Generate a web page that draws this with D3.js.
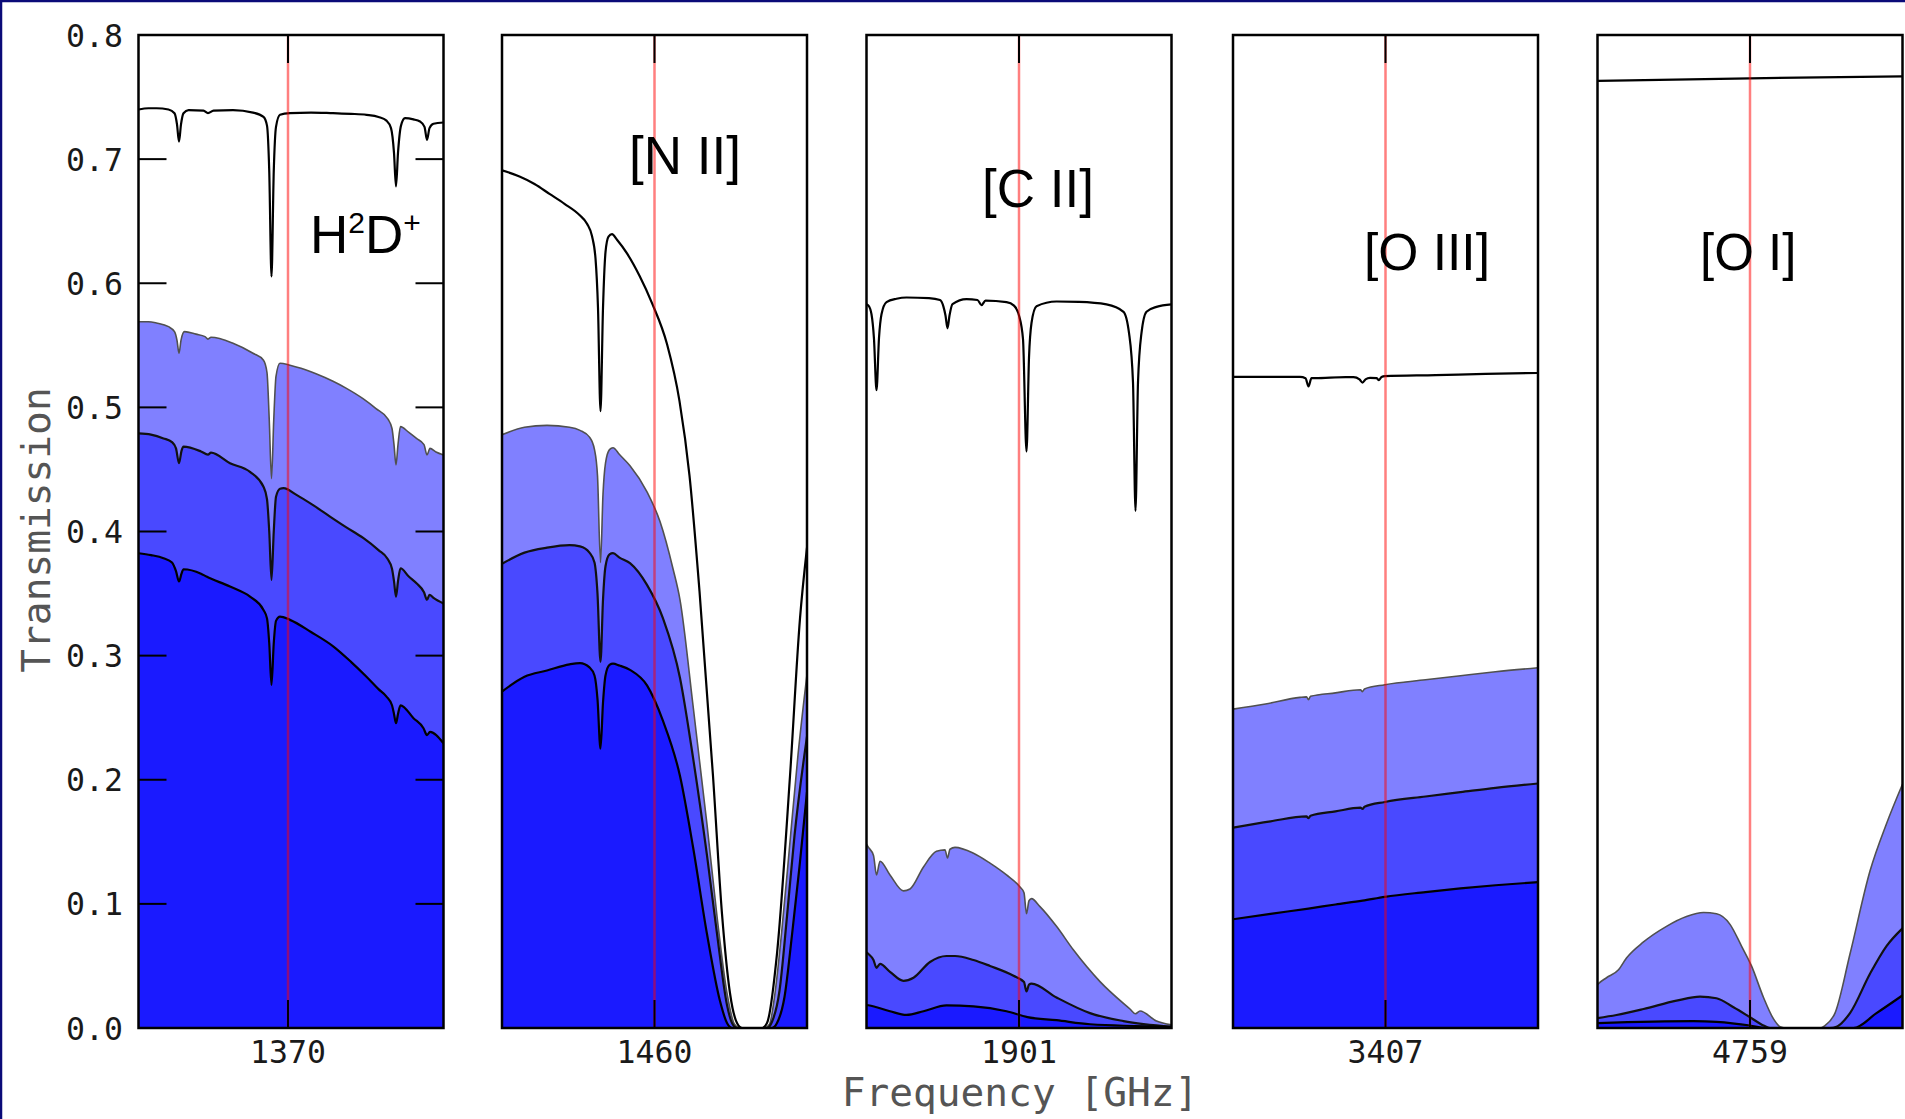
<!DOCTYPE html>
<html><head><meta charset="utf-8">
<script src="https://cdn.jsdelivr.net/npm/d3@7"></script>
<style>html,body{margin:0;padding:0;background:#fff;overflow:hidden}</style>
</head><body>
<svg id="chart" width="1905" height="1119"></svg>
<script>
// ---------------- DATA ----------------
const lineFreqs = [1370, 1460, 1901, 3407, 4759];          // tick label of each window (GHz)
const lineNames = ["H2D+", "[N II]", "[C II]", "[O III]", "[O I]"];
const lineTickOffsets = [-0.6, 0, 0, 0, 0];                 // line position inside window (GHz offset)
const windowDomain = [-30.5, 30.5];                          // GHz offset from window centre
const yTickValues = [0.0, 0.1, 0.2, 0.3, 0.4, 0.5, 0.6, 0.7, 0.8];
const yTickLabels = ["0.0", "0.1", "0.2", "0.3", "0.4", "0.5", "0.6", "0.7", "0.8"];

// each series: [GHz offset, transmission]
// panel 1 : H2D+ 1370 GHz
const p1Top = [[-30.5,0.740],[-28.5,0.741],[-26.9,0.741],[-24.5,0.740],[-23.3,0.737],[-22.8,0.728],[-22.4,0.714],[-22.0,0.728],[-21.5,0.737],[-20.5,0.7395],[-17.5,0.739],[-16.6,0.737],[-15.5,0.739],[-11.6,0.7395],[-7.6,0.7375],[-5.5,0.734],[-4.8,0.727],[-4.35,0.69],[-3.9,0.6055],[-3.45,0.69],[-3.0,0.726],[-2.2,0.7357],[-0.2,0.737],[4,0.7375],[8.4,0.737],[12,0.7365],[15.1,0.7357],[17.5,0.734],[19.1,0.731],[20.0,0.725],[20.6,0.705],[21.0,0.678],[21.4,0.705],[22.0,0.727],[22.8,0.733],[24.5,0.732],[25.8,0.7303],[26.7,0.726],[27.2,0.7155],[27.7,0.725],[28.5,0.7285],[30.5,0.7295]];
const p1Light = [[-30.5,0.569],[-28.5,0.569],[-26.9,0.568],[-24.5,0.565],[-23.3,0.561],[-22.8,0.554],[-22.4,0.5436],[-22.0,0.554],[-21.3,0.561],[-19,0.559],[-17.2,0.557],[-16.6,0.555],[-16,0.5565],[-11.6,0.5517],[-7.6,0.5436],[-5.5,0.538],[-4.8,0.528],[-4.35,0.49],[-3.9,0.4426],[-3.45,0.49],[-3.0,0.525],[-2.2,0.5356],[-0.2,0.534],[2,0.5315],[5,0.527],[8.4,0.521],[11,0.5155],[14.4,0.507],[17,0.499],[19.4,0.4905],[20.2,0.483],[20.6,0.47],[21.0,0.4537],[21.4,0.47],[21.9,0.4845],[23.5,0.48],[25.1,0.475],[26.6,0.47],[27.2,0.4617],[27.8,0.467],[29,0.464],[30.5,0.4617]];
const p1Mid = [[-30.5,0.479],[-28,0.478],[-25.5,0.475],[-23.8,0.472],[-23.0,0.467],[-22.4,0.455],[-21.9,0.465],[-21.5,0.4684],[-18,0.4645],[-16.6,0.462],[-16,0.4635],[-12.2,0.455],[-8.2,0.448],[-5.5,0.436],[-4.8,0.426],[-4.35,0.4],[-3.9,0.361],[-3.45,0.4],[-3.0,0.428],[-2.2,0.4345],[-1.5,0.435],[1.1,0.4295],[4.5,0.421],[7.8,0.412],[11,0.4035],[14.5,0.3946],[17.5,0.385],[19.3,0.378],[20.2,0.37],[20.6,0.36],[21.0,0.3475],[21.4,0.36],[21.9,0.3704],[23.5,0.364],[25.1,0.3583],[26.6,0.351],[27.2,0.345],[27.7,0.349],[28.5,0.3465],[30.5,0.342]];
const p1Dark = [[-30.5,0.3825],[-28,0.381],[-25.5,0.3785],[-23.8,0.375],[-23.0,0.368],[-22.4,0.3597],[-21.9,0.366],[-21.5,0.3696],[-18,0.366],[-16.9,0.3637],[-12.2,0.3556],[-8.2,0.3475],[-5.5,0.3368],[-4.8,0.33],[-4.35,0.31],[-3.9,0.2764],[-3.45,0.31],[-3.0,0.328],[-2.2,0.3315],[-0.2,0.3288],[4,0.319],[8.5,0.3073],[12,0.295],[15.1,0.283],[17.5,0.273],[19.1,0.267],[20.2,0.26],[20.6,0.253],[21.0,0.2455],[21.4,0.253],[21.9,0.26],[24.5,0.2496],[26.5,0.2415],[27.2,0.236],[27.8,0.2385],[30.5,0.2294]];

// panel 2 : [N II] 1460 GHz
const p2Top = [[-30.5,0.691],[-27,0.686],[-24,0.680],[-21,0.672],[-18,0.664],[-15,0.655],[-13.5,0.648],[-12.5,0.638],[-11.8,0.62],[-11.3,0.58],[-10.8,0.497],[-10.3,0.58],[-9.8,0.625],[-9.2,0.6375],[-8.5,0.6395],[-7.5,0.635],[-5.5,0.624],[-3,0.606],[-0.5,0.584],[2.5,0.551],[5,0.505],[7,0.445],[9,0.352],[11.7,0.203],[13.5,0.092],[15.1,0.028],[16.5,0.004],[17.5,0],[21.5,0],[22.5,0.004],[24.5,0.06],[27.1,0.203],[29.1,0.33],[30.5,0.387]];
const p2Light = [[-30.5,0.478],[-26,0.484],[-21.5,0.4855],[-17,0.484],[-14.9,0.4815],[-13,0.476],[-12,0.466],[-11.4,0.445],[-10.8,0.375],[-10.3,0.43],[-9.8,0.455],[-9.0,0.466],[-8.3,0.4675],[-7,0.462],[-4.9,0.453],[-1.5,0.432],[1.1,0.408],[3.7,0.37],[5.1,0.345],[7.7,0.26],[10.5,0.164],[12.5,0.09],[14.5,0.028],[16,0.003],[17,0],[22,0],[23,0.003],[24,0.025],[25.5,0.08],[27.1,0.15],[28.7,0.22],[30.5,0.285]];
const p2Mid = [[-30.5,0.374],[-26,0.383],[-21.5,0.387],[-17,0.389],[-14.9,0.388],[-13,0.383],[-12,0.375],[-11.4,0.35],[-10.8,0.295],[-10.3,0.345],[-9.8,0.372],[-9.0,0.3815],[-8.3,0.3825],[-7,0.379],[-4.9,0.3745],[-1.5,0.357],[1.7,0.33],[5.1,0.282],[7.7,0.218],[10.5,0.139],[12.5,0.076],[14.5,0.0185],[15.5,0.004],[16.5,0],[22.5,0],[23.5,0.005],[25,0.03],[26.5,0.09],[28,0.155],[30.5,0.235]];
const p2Dark = [[-30.5,0.271],[-26,0.283],[-21.5,0.288],[-17,0.293],[-14.9,0.294],[-13,0.2905],[-12,0.284],[-11.4,0.265],[-10.8,0.225],[-10.3,0.262],[-9.8,0.284],[-9.0,0.2925],[-8.3,0.2935],[-7,0.292],[-4.9,0.2885],[-1.5,0.276],[1.7,0.2474],[5.1,0.203],[7.7,0.146],[10.5,0.0757],[13.1,0.0217],[14.5,0.004],[15.5,0],[23.5,0],[24.5,0.004],[26,0.025],[27.5,0.075],[29,0.13],[30.5,0.19]];

// panel 3 : [C II] 1901 GHz
const p3Top = [[-30.5,0.583],[-30.1,0.582],[-29.5,0.575],[-29.0,0.555],[-28.5,0.5138],[-28.0,0.556],[-27.5,0.575],[-26.5,0.5848],[-24.5,0.5875],[-22.5,0.5885],[-18,0.588],[-15.8,0.5865],[-15.1,0.581],[-14.7,0.574],[-14.3,0.5637],[-13.9,0.574],[-13.3,0.5832],[-10.5,0.5872],[-8.3,0.5865],[-7.5,0.5823],[-6.7,0.586],[-2.5,0.5848],[-1.0,0.582],[0,0.574],[0.8,0.555],[1.5,0.4645],[2.0,0.54],[2.5,0.568],[3.5,0.5815],[7.5,0.5853],[12,0.585],[17.5,0.583],[20.9,0.577],[22.0,0.56],[22.8,0.52],[23.3,0.4167],[23.8,0.52],[24.5,0.56],[25.5,0.577],[27.5,0.581],[30.5,0.583]];
const p3Light = [[-30.5,0.148],[-30.1,0.1455],[-29.1,0.139],[-28.5,0.1233],[-27.8,0.1344],[-25.8,0.1233],[-23.1,0.1105],[-21.8,0.112],[-19.1,0.1297],[-16.5,0.1423],[-14.8,0.1435],[-14.3,0.137],[-13.8,0.144],[-12.8,0.1455],[-9.1,0.1408],[-5.8,0.1328],[-2.5,0.1233],[0.2,0.1136],[1.0,0.109],[1.5,0.092],[2.0,0.1025],[2.5,0.1042],[4.2,0.0978],[7.5,0.0819],[10.9,0.0628],[16.2,0.0374],[22.2,0.0153],[23.3,0.0115],[24.2,0.0137],[27.5,0.0056],[30.5,0.0025]];
const p3Mid = [[-30.5,0.061],[-30.1,0.0596],[-29.1,0.0548],[-28.5,0.0485],[-27.8,0.0517],[-25.8,0.0453],[-23.1,0.038],[-21.1,0.0405],[-17.8,0.0532],[-14.5,0.058],[-12.8,0.058],[-9.1,0.0548],[-5.8,0.05],[-1.1,0.0421],[1.0,0.037],[1.5,0.0294],[2.0,0.035],[2.5,0.0358],[7.5,0.0246],[14.2,0.012],[20.9,0.0056],[30.5,0.001]];
const p3Dark = [[-30.5,0.0185],[-30.1,0.0183],[-25.8,0.0135],[-22.5,0.0105],[-19.1,0.0135],[-14.5,0.0183],[-9.1,0.0175],[-2.5,0.0135],[1.7,0.0088],[7.5,0.0063],[14.2,0.003],[30.5,0.001]];

// panel 4 : [O III] 3407 GHz
const p4Top = [[-30.5,0.5246],[-20,0.5246],[-17.1,0.5246],[-16.0,0.5235],[-15.4,0.5169],[-14.8,0.5235],[-14.1,0.5235],[-8,0.5243],[-6.4,0.5243],[-5.2,0.5225],[-4.6,0.52],[-4.0,0.5225],[-3.1,0.5237],[-1.8,0.5235],[-1.3,0.522],[-0.8,0.5245],[-0.1,0.5252],[10,0.526],[20,0.527],[30.5,0.5277]];
const p4Light = [[-30.5,0.2569],[-24,0.261],[-17.1,0.2664],[-15.8,0.2668],[-15.4,0.2645],[-15.0,0.2672],[-10,0.2700],[-5.0,0.2725],[-4.6,0.271],[-4.2,0.2732],[-0.1,0.2766],[8,0.2805],[15,0.2838],[22,0.287],[30.5,0.2902]];
const p4Mid = [[-30.5,0.1614],[-23,0.1665],[-15.8,0.1705],[-15.4,0.169],[-15.0,0.171],[-10,0.1745],[-5,0.1775],[-4.6,0.1765],[-4.2,0.1782],[-0.1,0.1821],[8,0.1865],[15,0.190],[22,0.1935],[30.5,0.197]];
const p4Dark = [[-30.5,0.0876],[-23,0.092],[-15.4,0.0962],[-10,0.0995],[-4.6,0.1026],[-0.1,0.1057],[8,0.1095],[15,0.1125],[22,0.115],[30.5,0.1175]];

// panel 5 : [O I] 4759 GHz
const p5Top = [[-30.5,0.763],[0,0.7651],[30.5,0.7667]];
const p5Light = [[-30.5,0.035],[-30.3,0.0358],[-28.7,0.0405],[-26.3,0.0469],[-24.7,0.0564],[-21.3,0.0693],[-16.7,0.0819],[-12.7,0.0898],[-9.3,0.093],[-6.7,0.092],[-4,0.0835],[-1.7,0.066],[0.3,0.05],[2.7,0.0246],[4.7,0.0073],[6,0.001],[7,0],[14,0],[15,0.002],[17,0.012],[20,0.0596],[24,0.1265],[27.3,0.1646],[30.5,0.1964]];
const p5Mid = [[-30.5,0.008],[-26.7,0.0105],[-21.3,0.0153],[-14.7,0.022],[-10,0.0253],[-6.7,0.024],[-3.3,0.0167],[0,0.0087],[2.7,0.002],[4,0],[16,0],[17.3,0.001],[20,0.012],[24,0.0437],[27.3,0.066],[30.5,0.0803]];
const p5Dark = [[-30.5,0.004],[-11.3,0.0056],[-6.7,0.005],[0,0.002],[3,0],[20.7,0],[25.3,0.012],[30.5,0.0263]];

const panelTop = [p1Top, p2Top, p3Top, p4Top, p5Top];
const panelLight = [p1Light, p2Light, p3Light, p4Light, p5Light];
const panelMid = [p1Mid, p2Mid, p3Mid, p4Mid, p5Mid];
const panelDark = [p1Dark, p2Dark, p3Dark, p4Dark, p5Dark];

// ---------------- LAYOUT ----------------
const plotTop = 35, plotBottom = 1028;
const panelLefts = [138.5, 502, 866.5, 1233, 1597.5];
const panelWidth = 305;
const tickLen = 28;
const monoFont = "'DejaVu Sans Mono', monospace";
const sansFont = "'Liberation Sans', Arial, sans-serif";

const svg = d3.select("#chart");
svg.append("rect").attr("width", 1905).attr("height", 1119).attr("fill", "#fff");

const y = d3.scaleLinear().domain([0, 0.8]).range([plotBottom, plotTop]);

lineFreqs.forEach((freq, i) => {
  const left = panelLefts[i];
  const x = d3.scaleLinear().domain(windowDomain).range([left, left + panelWidth]);
  const g = svg.append("g");
  const clipId = "clip" + i;
  svg.append("clipPath").attr("id", clipId).append("rect")
    .attr("x", left).attr("y", plotTop).attr("width", panelWidth).attr("height", plotBottom - plotTop);
  const inner = g.append("g").attr("clip-path", `url(#${clipId})`);

  const area = d3.area().x(d => x(d[0])).y0(y(0)).y1(d => y(d[1])).curve(d3.curveMonotoneX);
  const line = d3.line().x(d => x(d[0])).y(d => y(d[1])).curve(d3.curveMonotoneX);

  const layers = [
    {data: panelLight[i], fill: "#8080ff", stroke: "#505050", sw: 1.6},
    {data: panelMid[i],   fill: "#4949ff", stroke: "#111", sw: 2.2},
    {data: panelDark[i],  fill: "#1a1aff", stroke: "#000", sw: 2.2}
  ];
  layers.forEach(L => {
    inner.append("path").datum(L.data).attr("d", area).attr("fill", L.fill).attr("stroke", "none");
    inner.append("path").datum(L.data).attr("d", line).attr("fill", "none")
      .attr("stroke", L.stroke).attr("stroke-width", L.sw).attr("stroke-linejoin", "round");
  });
  inner.append("path").datum(panelTop[i]).attr("d", line).attr("fill", "none")
    .attr("stroke", "#000").attr("stroke-width", 2.2).attr("stroke-linejoin", "round");

  // red line at spectral line
  const xl = x(lineTickOffsets[i]);
  inner.append("line").attr("x1", xl).attr("x2", xl).attr("y1", plotTop).attr("y2", plotBottom)
    .attr("stroke", "#ff0000").attr("stroke-opacity", 0.5).attr("stroke-width", 2.5);

  // x ticks (top and bottom, inward)
  g.append("line").attr("x1", xl).attr("x2", xl).attr("y1", plotTop).attr("y2", plotTop + tickLen)
    .attr("stroke", "#000").attr("stroke-width", 2);
  g.append("line").attr("x1", xl).attr("x2", xl).attr("y1", plotBottom - tickLen).attr("y2", plotBottom)
    .attr("stroke", "#000").attr("stroke-width", 2);
  g.append("text").attr("x", xl).attr("y", 1063).attr("text-anchor", "middle")
    .attr("font-family", monoFont).attr("font-size", 31.5).attr("fill", "#1a1a1a").text(freq);

  // y ticks only on first panel
  if (i === 0) {
    yTickValues.forEach((v, k) => {
      const yy = y(v);
      if (v > 0 && v < 0.8) {
        g.append("line").attr("x1", left).attr("x2", left + tickLen).attr("y1", yy).attr("y2", yy)
          .attr("stroke", "#000").attr("stroke-width", 2);
        g.append("line").attr("x1", left + panelWidth - tickLen).attr("x2", left + panelWidth).attr("y1", yy).attr("y2", yy)
          .attr("stroke", "#000").attr("stroke-width", 2);
      }
      g.append("text").attr("x", 123).attr("y", yy + 11.5).attr("text-anchor", "end")
        .attr("font-family", monoFont).attr("font-size", 31.5).attr("fill", "#1a1a1a").text(yTickLabels[k]);
    });
  }

  // frame
  g.append("rect").attr("x", left).attr("y", plotTop).attr("width", panelWidth).attr("height", plotBottom - plotTop)
    .attr("fill", "none").attr("stroke", "#000").attr("stroke-width", 2.5);
});

// line name labels
const lab = (x0, y0, size) => svg.append("text").attr("x", x0).attr("y", y0)
  .attr("font-family", sansFont).attr("font-size", size).attr("fill", "#000");
const h = lab(310, 253, 53);
h.append("tspan").text("H");
h.append("tspan").attr("font-size", 30).attr("dy", -20).text("2");
h.append("tspan").attr("dy", 20).text("D");
h.append("tspan").attr("font-size", 30).attr("dy", -20).text("+");
lab(629, 174, 53).text(lineNames[1]);
lab(982, 207, 53).text(lineNames[2]);
lab(1364, 270, 52).attr("textLength", 126).attr("lengthAdjust", "spacingAndGlyphs").text(lineNames[3]);
lab(1700, 270, 51).text(lineNames[4]);

// axis titles
svg.append("text").attr("x", 1020).attr("y", 1106).attr("text-anchor", "middle")
  .attr("font-family", monoFont).attr("font-size", 39.5).attr("fill", "#555").text("Frequency [GHz]");
svg.append("text").attr("transform", "translate(50,530) rotate(-90)").attr("text-anchor", "middle")
  .attr("font-family", monoFont).attr("font-size", 39.5).attr("fill", "#555").text("Transmission");

// slide border (top and left)
svg.append("line").attr("x1", 0).attr("x2", 1905).attr("y1", 1).attr("y2", 1).attr("stroke", "#0a0a78").attr("stroke-width", 2.5);
svg.append("line").attr("x1", 1).attr("x2", 1).attr("y1", 0).attr("y2", 1119).attr("stroke", "#0a0a78").attr("stroke-width", 2.5);
</script>
</body></html>
